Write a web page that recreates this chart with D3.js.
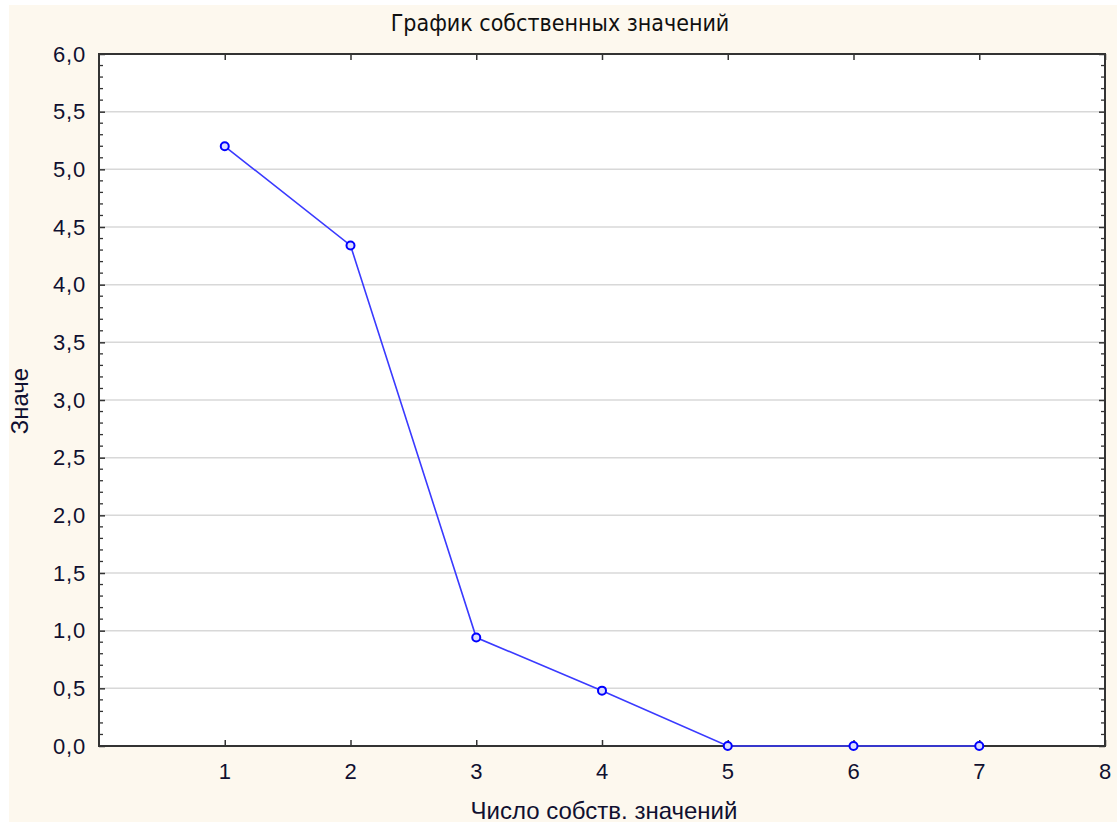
<!DOCTYPE html>
<html>
<head>
<meta charset="utf-8">
<script src="https://cdn.jsdelivr.net/npm/d3@7"></script>
<style>
  body { margin: 0; background: #ffffff; }
  text { font-family: "Liberation Sans", Arial, sans-serif; }
</style>
</head>
<body>
<div id="chart"></div>
<script>
// eigenvalue numbers and values
var eigenNumbers = [1, 2, 3, 4, 5, 6, 7];
var eigenValues = [5.20, 4.34, 0.94, 0.48, 0.0, 0.0, 0.0];
var xTickValues = [1, 2, 3, 4, 5, 6, 7, 8];
var yTickValues = [0, 0.5, 1, 1.5, 2, 2.5, 3, 3.5, 4, 4.5, 5, 5.5, 6];

var titleText = "График собственных значений";
var xLabelText = "Число собств. значений";
var yLabelText = "Значе";

var W = 1117, H = 825;
var margin = {top: 54, right: 12, bottom: 79, left: 99},
    width = W - margin.left - margin.right,
    height = H - margin.top - margin.bottom;

var x = d3.scaleLinear().domain([0, 8]).range([0, width]);
var y = d3.scaleLinear().domain([0, 6]).range([height, 0]);

var svg = d3.select("#chart").append("svg")
    .attr("width", W)
    .attr("height", H);

// cream background
svg.append("rect")
    .attr("x", 9).attr("y", 5)
    .attr("width", W - 9).attr("height", H - 8)
    .attr("fill", "#fdf8ee");

var g = svg.append("g")
    .attr("transform", "translate(" + margin.left + "," + margin.top + ")");

// white plot area
g.append("rect")
    .attr("width", width).attr("height", height)
    .attr("fill", "#ffffff");

// horizontal grid
g.selectAll(".grid")
    .data(yTickValues.filter(function(d) { return d > 0 && d < 6; }))
    .enter().append("line")
    .attr("class", "grid")
    .attr("x1", 0).attr("x2", width)
    .attr("y1", function(d) { return y(d); })
    .attr("y2", function(d) { return y(d); })
    .style("stroke", "#d8d8d8")
    .style("stroke-width", 1.5);

// minor ticks (0.1 step) on left and right
var minorTicks = d3.range(0, 61).map(function(i) { return i / 10; })
    .filter(function(d) { return Math.round(d * 10) % 5 !== 0; });

var axisColor = "#333333";

g.selectAll(".minorL").data(minorTicks).enter().append("line")
    .attr("x1", 0).attr("x2", 4)
    .attr("y1", function(d) { return y(d); }).attr("y2", function(d) { return y(d); })
    .style("stroke", axisColor).style("stroke-width", 1.3);
g.selectAll(".minorR").data(minorTicks).enter().append("line")
    .attr("x1", width).attr("x2", width - 4)
    .attr("y1", function(d) { return y(d); }).attr("y2", function(d) { return y(d); })
    .style("stroke", axisColor).style("stroke-width", 1.3);

// y axis (left) major ticks inward
var yAxis = d3.axisLeft(y).tickValues(yTickValues).tickSize(-6).tickPadding(13)
    .tickFormat(function(d) { return d3.format(".1f")(d).replace(".", ","); });
var yAxisG = g.append("g").call(yAxis);
yAxisG.select(".domain").remove();

// right side major ticks
var yAxisR = d3.axisRight(y).tickValues(yTickValues).tickSize(-6).tickFormat("");
var yAxisRG = g.append("g").attr("transform", "translate(" + width + ",0)").call(yAxisR);
yAxisRG.select(".domain").remove();

// x axis bottom, ticks inward
var xAxis = d3.axisBottom(x).tickValues(xTickValues).tickSize(-6).tickPadding(17)
    .tickFormat(d3.format("d"));
var xAxisG = g.append("g").attr("transform", "translate(0," + height + ")").call(xAxis);
xAxisG.select(".domain").remove();

// top ticks inward
var xAxisT = d3.axisTop(x).tickValues(xTickValues).tickSize(-6).tickFormat("");
var xAxisTG = g.append("g").call(xAxisT);
xAxisTG.select(".domain").remove();

[yAxisG, yAxisRG, xAxisG, xAxisTG].forEach(function(a) {
    a.selectAll("line").style("stroke", axisColor).style("stroke-width", 1.5);
    a.selectAll("text")
        .style("font-size", "22px")
        .style("letter-spacing", "0.8px")
        .style("fill", "#101030");
});

// frame
g.append("rect")
    .attr("width", width).attr("height", height)
    .attr("fill", "none")
    .style("stroke", axisColor)
    .style("stroke-width", 2);

// line
var data = eigenNumbers.map(function(n, i) { return {n: n, v: eigenValues[i]}; });
var line = d3.line()
    .x(function(d) { return x(d.n); })
    .y(function(d) { return y(d.v); });

g.append("path")
    .attr("d", line(data))
    .style("fill", "none")
    .style("stroke", "#3a3aff")
    .style("stroke-width", 1.6);

g.selectAll(".pt").data(data).enter().append("circle")
    .attr("cx", function(d) { return x(d.n); })
    .attr("cy", function(d) { return y(d.v); })
    .attr("r", 4)
    .style("fill", "#dcdcff")
    .style("stroke", "#0000ff")
    .style("stroke-width", 2);

// title
svg.append("text")
    .attr("x", 560).attr("y", 31)
    .attr("text-anchor", "middle")
    .style("font-family", "'Liberation Sans Narrow', 'DejaVu Sans Condensed', sans-serif")
    .style("font-size", "23px")
    .style("fill", "#101010")
    .text(titleText);

// x label
svg.append("text")
    .attr("x", 604).attr("y", 819)
    .attr("text-anchor", "middle")
    .style("font-size", "24px")
    .style("fill", "#101030")
    .text(xLabelText);

// y label
svg.append("text")
    .attr("transform", "translate(28,401) rotate(-90)")
    .attr("text-anchor", "middle")
    .style("font-size", "24px")
    .style("fill", "#101030")
    .text(yLabelText);
</script>
</body>
</html>
